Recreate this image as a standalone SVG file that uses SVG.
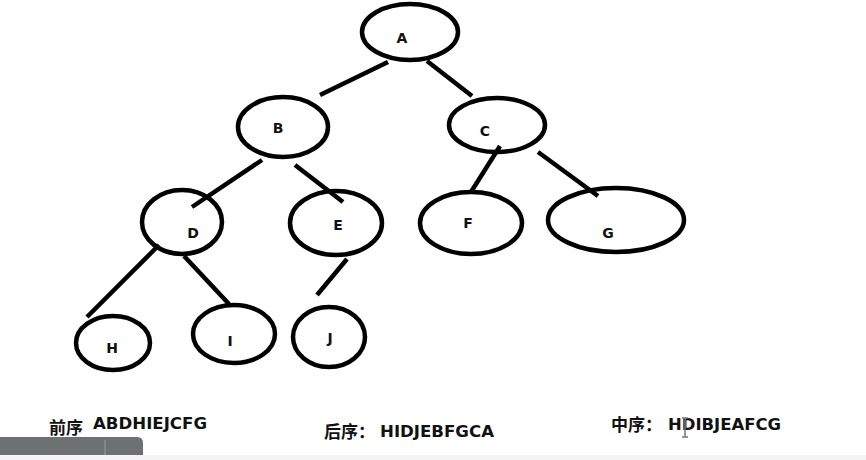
<svg xmlns="http://www.w3.org/2000/svg" width="866" height="460" viewBox="0 0 866 460">
<style>
.n ellipse{fill:none;stroke:#000;stroke-width:4.5}
.n text{font-family:"DejaVu Sans","Liberation Sans",sans-serif;font-weight:bold;font-size:14px;fill:#111;text-anchor:middle}
.e line{stroke:#000;stroke-width:4.5;stroke-linecap:butt}
.t{font-family:"DejaVu Sans","Liberation Sans",sans-serif;font-weight:bold;font-size:16px;fill:#111}
.c{font-family:"Noto Sans CJK SC","Liberation Sans",sans-serif;font-weight:bold;font-size:17px;fill:#111}
</style>
<rect width="866" height="460" fill="#fff"/>
<g id="edges" class="e">
<line x1="388" y1="62" x2="320" y2="95"/>
<line x1="427" y1="61" x2="472" y2="96"/>
<line x1="262" y1="160" x2="192" y2="207"/>
<line x1="295" y1="165" x2="343" y2="202"/>
<line x1="500" y1="146" x2="471" y2="192"/>
<line x1="538" y1="152" x2="598" y2="196"/>
<line x1="159" y1="245" x2="87" y2="317"/>
<line x1="184" y1="256" x2="229" y2="304"/>
<line x1="347" y1="259" x2="317" y2="295"/>
</g>
<g id="A" class="n"><ellipse cx="410" cy="32" rx="48" ry="28"/><text x="402" y="43">A</text></g>
<g id="B" class="n"><ellipse cx="283" cy="127" rx="45" ry="30"/><text x="278" y="133">B</text></g>
<g id="C" class="n"><ellipse cx="497" cy="125" rx="48" ry="27"/><text x="485" y="136">C</text></g>
<g id="D" class="n"><ellipse cx="182" cy="222" rx="40" ry="32"/><text x="193" y="238">D</text></g>
<g id="E" class="n"><ellipse cx="336" cy="223" rx="46" ry="32"/><text x="338" y="230">E</text></g>
<g id="F" class="n"><ellipse cx="471" cy="223" rx="51" ry="31"/><text x="468" y="228">F</text></g>
<g id="G" class="n"><ellipse cx="616" cy="220" rx="68" ry="32"/><text x="608" y="238">G</text></g>
<g id="H" class="n"><ellipse cx="113" cy="343" rx="37" ry="27"/><text x="112" y="353">H</text></g>
<g id="I" class="n"><ellipse cx="234" cy="334" rx="41" ry="29"/><text x="230" y="346">I</text></g>
<g id="J" class="n"><ellipse cx="329" cy="337" rx="36" ry="30"/><text x="330" y="343">J</text></g>
<g id="labels">
<text class="c" x="49" y="434">前序</text>
<text class="t" x="93" y="429" textLength="114" lengthAdjust="spacingAndGlyphs">ABDHIEJCFG</text>
<text class="c" x="324" y="438">后序：</text>
<text class="t" x="380" y="437" textLength="114" lengthAdjust="spacingAndGlyphs">HIDJEBFGCA</text>
<text class="c" x="611" y="431">中序：</text>
<text class="t" x="668" y="430" textLength="113" lengthAdjust="spacingAndGlyphs">HDIBJEAFCG</text>
</g>
<g id="cursor" stroke="#777" stroke-width="1.5" fill="none">
<line x1="685" y1="418" x2="685" y2="437"/>
<line x1="682" y1="418" x2="688" y2="418"/>
<line x1="682" y1="437" x2="688" y2="437"/>
</g>
<rect x="0" y="455" width="866" height="5" fill="#f3f3f3"/>
<path d="M0 437 H137 Q143 437 143 443 V455 H0 Z" fill="#6e7171"/>
<line x1="105" y1="440" x2="105" y2="455" stroke="#9a9d9d" stroke-width="1"/>
</svg>
